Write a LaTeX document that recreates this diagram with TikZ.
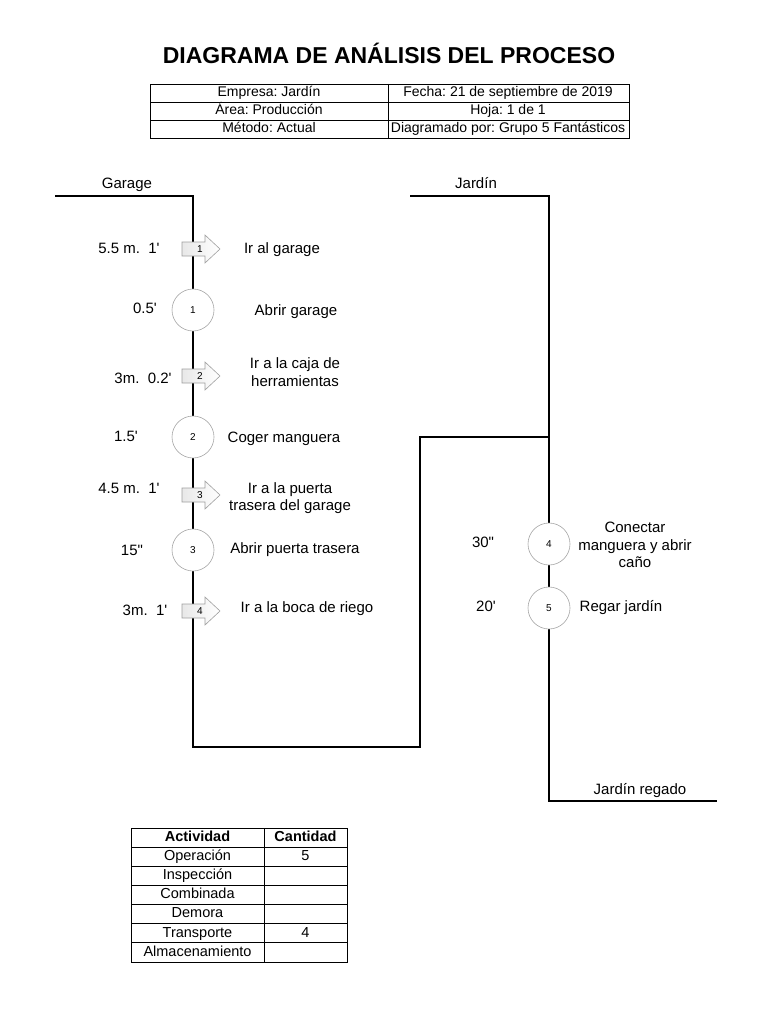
\documentclass[tikz,border=0pt]{standalone}
\usepackage{fontspec}
\setmainfont{Liberation Sans}[Ligatures=TeXOff]
\frenchspacing
\newcommand{\sq}{\symbol{39}}
\newcommand{\dq}{\symbol{34}}
\begin{document}
\begin{tikzpicture}[x=1pt,y=-1pt,
  txtm/.style={font=\fontsize{15}{17.5}\selectfont, align=center, inner sep=0},
  txt/.style={txtm, text height=11pt, text depth=3pt},
  hdr/.style={font=\fontsize{14}{16}\selectfont, inner sep=0, text height=10.3pt, text depth=2.8pt},
  tbl/.style={font=\fontsize{14.5}{16}\selectfont, inner sep=0, text height=10.6pt, text depth=2.9pt},
  tblb/.style={tbl, font=\bfseries\fontsize{14.5}{16}\selectfont},
  op/.style={circle, draw=gray!70, line width=0.6pt, minimum size=42pt, inner sep=0, fill=white, font=\fontsize{10}{12}\selectfont},
  num/.style={font=\fontsize{10}{12}\selectfont, inner sep=0, text height=7pt, text depth=0pt},
  flow/.style={line width=1.1pt, black},
  grid/.style={line width=0.9pt, black},
  arrowshape/.style={draw=gray!75, line width=0.6pt, left color=gray!18, right color=white}]
\useasboundingbox (0,0) rectangle (768,1024);
\fill[white] (0,0) rectangle (768,1024);

% Title
\node[font=\bfseries\fontsize{23}{26}\selectfont, inner sep=0, text height=16.5pt, text depth=0pt] (title) at (389,55) {DIAGRAMA DE ANÁLISIS DEL PROCESO};

% Header table
\draw[grid] (150,84) rectangle (629,138);
\draw[grid] (150,102) -- (629,102);
\draw[grid] (150,120) -- (629,120);
\draw[grid] (388,84) -- (388,138);
\node[hdr] (h1) at (269,93) {Empresa: Jardín};
\node[hdr] (h2) at (508,93) {Fecha: 21 de septiembre de 2019};
\node[hdr] (h3) at (269,111) {Área: Producción};
\node[hdr] (h4) at (508,111) {Hoja: 1 de 1};
\node[hdr] (h5) at (269,129) {Método: Actual};
\node[hdr] (h6) at (508,129) {Diagramado por: Grupo 5 Fantásticos};

% Flow lines
\coordinate (gs) at (55,196);
\coordinate (gc) at (193,196);
\coordinate (gb) at (193,747);
\coordinate (mb) at (420,747);
\coordinate (mt) at (420,437);
\coordinate (jj) at (549,437);
\coordinate (js) at (410,196);
\coordinate (jc) at (549,196);
\coordinate (jb) at (549,801);
\coordinate (je) at (717,801);
\draw[flow] (gs) -- (gc) -- (gb) -- (mb) -- (mt) -- (jj);
\draw[flow] (js) -- (jc) -- (jb) -- (je);

\node[txt] (garage) at (127,185) {Garage};
\node[txt] (jardin) at (476,185) {Jardín};

% Transport arrows
\foreach \n/\yy in {1/249, 2/376, 3/495, 4/611}{
  \draw[arrowshape] (182,\yy-7) -- (205,\yy-7) -- (205,\yy-14) -- (220,\yy) -- (205,\yy+14) -- (205,\yy+7) -- (182,\yy+7) -- cycle;
  \node[num] (t\n) at (200,\yy) {\n};
}

% Operations
\node[op] (o1) at (193,310) {1};
\node[op] (o2) at (193,437) {2};
\node[op] (o3) at (193,550) {3};
\node[op] (o4) at (549,544) {4};
\node[op] (o5) at (549,608) {5};

% Left labels
\node[txt] (l1) at (129,249) {5.5 m.\ \ 1\sq};
\node[txt] (l2) at (145,309) {0.5\sq};
\node[txt] (l3) at (143,379) {3m.\ \ 0.2\sq};
\node[txt] (l4) at (126,437) {1.5\sq};
\node[txt] (l5) at (129,489) {4.5 m.\ \ 1\sq};
\node[txt] (l6) at (132,551) {15\dq};
\node[txt] (l7) at (145,611) {3m.\ \ 1\sq};
\node[txt] (l8) at (483,543) {30\dq};
\node[txt] (l9) at (486,607) {20\sq};

% Right labels
\node[txt] (r1) at (282,249) {Ir al garage};
\node[txt] (r2) at (296,311) {Abrir garage};
\node[txtm] (r3) at (295,372) {Ir a la caja de\\herramientas};
\node[txt] (r4) at (284,438) {Coger manguera};
\node[txtm] (r5) at (290,498) {Ir a la puerta\\trasera del garage};
\node[txt] (r6) at (295,549) {Abrir puerta trasera};
\node[txt] (r7) at (307,608) {Ir a la boca de riego};
\node[txtm] (r8) at (635,545) {Conectar\\manguera y abrir\\caño};
\node[txt] (r9) at (621,607) {Regar jardín};
\node[txt] (r10) at (640,790) {Jardín regado};

% Summary table
\draw[grid] (131,828) rectangle (347,962);
\foreach \i in {1,...,6}{
  \draw[grid] (131,828+\i*19.14) -- (347,828+\i*19.14);
}
\draw[grid] (264,828) -- (264,962);
\node[tblb] (a0) at (197.5,837.6) {Actividad};
\node[tblb] (c0) at (305.5,837.6) {Cantidad};
\node[tbl] (a1) at (197.5,856.7) {Operación};
\node[tbl] (c1) at (305.5,856.7) {5};
\node[tbl] (a2) at (197.5,875.8) {Inspección};
\node[tbl] (a3) at (197.5,895.0) {Combinada};
\node[tbl] (a4) at (197.5,914.1) {Demora};
\node[tbl] (a5) at (197.5,933.3) {Transporte};
\node[tbl] (c5) at (305.5,933.3) {4};
\node[tbl] (a6) at (197.5,952.4) {Almacenamiento};
\end{tikzpicture}
\end{document}
